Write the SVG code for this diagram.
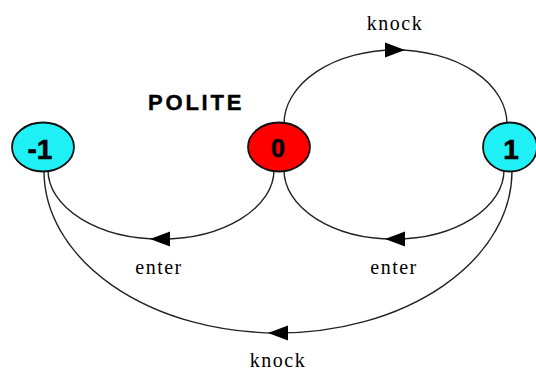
<svg xmlns="http://www.w3.org/2000/svg" width="536" height="370" viewBox="0 0 536 370">
<style>
.node{stroke:#111;stroke-width:1.8}
.cyan{fill:#1ff0f5}
.red{fill:#ff0000}
.nl{font-family:"Liberation Sans",Arial,sans-serif;font-weight:bold;font-size:28px;text-anchor:middle;fill:#000;stroke:#000;stroke-width:0.6}
.edge{fill:none;stroke:#222;stroke-width:1.4}
.el{font-family:"Liberation Serif","Times New Roman",serif;font-size:20px;letter-spacing:1.5px;text-anchor:middle;fill:#000}
.title{font-family:"Liberation Sans",Arial,sans-serif;font-weight:bold;font-size:22px;letter-spacing:2.8px;fill:#000;stroke:#000;stroke-width:0.4}
</style>
<defs>
<path id="arr" d="M0,0 L-20,-7.5 L-20,7.5 Z" fill="#000"/>
</defs>
<rect width="536" height="370" fill="#fff"/>
<text class="title" x="148" y="110">POLITE</text>
<g id="connectors">
<path class="edge" d="M284,124 A111.5,74 0 0 1 507,124"/>
<use href="#arr" transform="translate(405,50)"/>
<text class="el" x="395" y="30">knock</text>
<path class="edge" d="M274,170 A113,69 0 0 1 48,170"/>
<use href="#arr" transform="translate(150,239) rotate(180)"/>
<text class="el" x="159" y="274">enter</text>
<path class="edge" d="M504,170 A110,69 0 0 1 284,170"/>
<use href="#arr" transform="translate(385,239) rotate(180)"/>
<text class="el" x="394" y="274">enter</text>
<path class="edge" d="M512,171 A234,162 0 0 1 44,171"/>
<use href="#arr" transform="translate(268,333) rotate(180)"/>
<text class="el" x="278" y="367">knock</text>
</g>
<g id="node-m1">
<ellipse class="node cyan" cx="43" cy="147" rx="31" ry="24.5"/>
<text class="nl" x="40" y="159">-1</text>
</g>
<g id="node-0">
<ellipse class="node red" cx="279" cy="147" rx="31" ry="24.5"/>
<text class="nl" x="278" y="157" style="font-size:25px">0</text>
</g>
<g id="node-1">
<ellipse class="node cyan" cx="510" cy="147" rx="27" ry="24.5"/>
<text class="nl" x="511" y="159">1</text>
</g>
</svg>
